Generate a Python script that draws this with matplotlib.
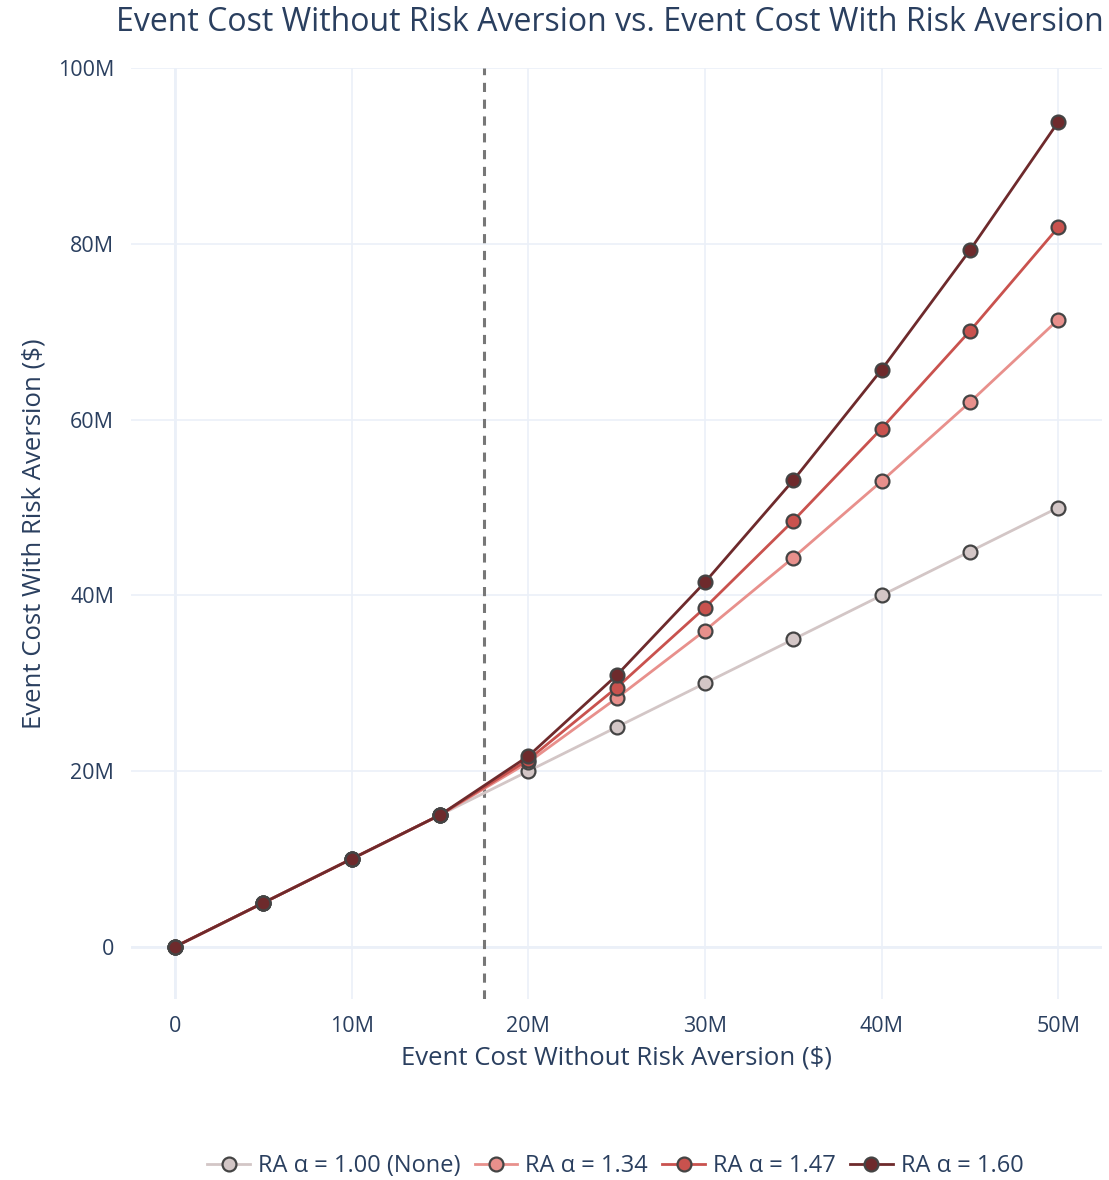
import matplotlib.pyplot as plt
from matplotlib.ticker import FuncFormatter
from matplotlib.lines import Line2D

plt.rcParams['font.family'] = ['Open Sans', 'DejaVu Sans']

# event cost without risk aversion, in $M
base_cost = [0, 5, 10, 15, 20, 25, 30, 35, 40, 45, 50]

cost_ra_100 = [0, 5, 10, 15, 20, 25, 30, 35, 40, 45, 50]
cost_ra_134 = [0, 5, 10, 15, 21.0, 28.3, 36.0, 44.3, 53.0, 62.0, 71.4]
cost_ra_147 = [0, 5, 10, 15, 21.3, 29.5, 38.6, 48.5, 59.0, 70.1, 81.9]
cost_ra_160 = [0, 5, 10, 15, 21.7, 30.9, 41.5, 53.1, 65.7, 79.3, 93.9]

labels = ["RA α = 1.00 (None)", "RA α = 1.34", "RA α = 1.47", "RA α = 1.60"]
colors = ["#d3c6c6", "#e8908c", "#c9524e", "#6e2a2c"]
threshold = 17.5

text_col = "#2a3f5f"
grid_col = "#ebf0f8"

fig = plt.figure(figsize=(11.09, 11.8), dpi=100)
ax = fig.add_axes([0.118, 0.153, 0.876, 0.789])

series = [cost_ra_100, cost_ra_134, cost_ra_147, cost_ra_160]
for vals, lab, c in zip(series, labels, colors):
    ax.plot([v * 1e6 for v in base_cost], [v * 1e6 for v in vals],
            color=c, lw=2, marker="o", ms=10, mfc=c, mec="#444444",
            mew=1.6, label=lab, zorder=3)

ax.axvline(threshold * 1e6, color="#777777", lw=2.2, ls=(0, (3, 2.5)), zorder=2)

ax.set_xlim(-2.5e6, 52.5e6)
ax.set_ylim(-6e6, 100e6)
ax.set_xticks([0, 10e6, 20e6, 30e6, 40e6, 50e6])
ax.set_yticks([0, 20e6, 40e6, 60e6, 80e6, 100e6])
fmt = FuncFormatter(lambda v, p: "0" if v == 0 else f"{v/1e6:.0f}M")
ax.xaxis.set_major_formatter(fmt)
ax.yaxis.set_major_formatter(fmt)

for s in ax.spines.values():
    s.set_visible(False)
ax.grid(True, color=grid_col, lw=1.2)
ax.axhline(0, color=grid_col, lw=2, zorder=1)
ax.axvline(0, color=grid_col, lw=2, zorder=1)
ax.set_axisbelow(True)
ax.tick_params(length=0, labelsize=15.5, colors=text_col, pad=12)

ax.set_xlabel("Event Cost Without Risk Aversion ($)", fontsize=18.5, color=text_col, labelpad=6)
ax.set_ylabel("Event Cost With Risk Aversion ($)", fontsize=18.5, color=text_col, labelpad=8)
fig.text(0.55, 0.981, "Event Cost Without Risk Aversion vs. Event Cost With Risk Aversion",
         ha="center", va="center", fontsize=23, color=text_col)

handles = [Line2D([0], [0], color=c, lw=2, marker="o", ms=10, mfc=c,
                  mec="#444444", mew=1.6) for c in colors]
fig.legend(handles, labels, loc="center", bbox_to_anchor=(0.555, 0.012),
           ncol=4, frameon=False, fontsize=17, labelcolor=text_col,
           handlelength=1.8, handletextpad=0.35, columnspacing=0.6)

fig.savefig("out.png", dpi=100)
